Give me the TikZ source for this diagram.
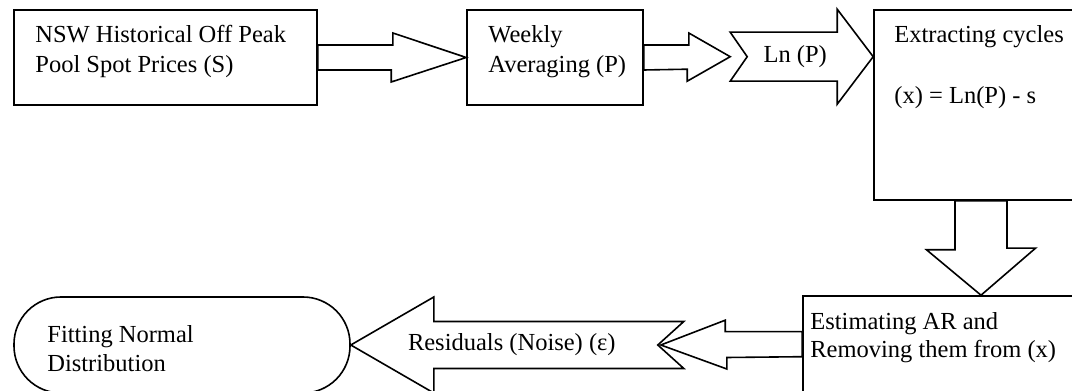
\documentclass[tikz,border=0pt]{standalone}
\usepackage{fontspec}
\setmainfont{Liberation Serif}
\tikzset{
  box/.style={draw,rectangle,line width=1.6pt},
  blk/.style={draw,line width=1.6pt},
  txt/.style={align=left,inner sep=0pt,font=\fontsize{24.5}{30}\selectfont},
}
\begin{document}
\begin{tikzpicture}[x=1pt,y=1pt,line join=miter] % Price model flow
\useasboundingbox (0,0) rectangle (1072,391);
\clip (0,0) rectangle (1072,391);
       \node[box,minimum width=303pt,minimum height=95pt] (nsw) at (165.5,333.5) {};
       \node[box,minimum width=176pt,minimum height=95pt] (wkly) at (555,333.5) {};
       \node[box,minimum width=214pt,minimum height=190pt] (xcyc) at (981,286) {};
       \node[box,minimum width=356pt,minimum height=124pt] (estar) at (981,33) {};
       \node[box,rounded corners=47pt,minimum width=336pt,minimum height=96pt] (fitn) at (182,46) {};
       \coordinate (lntip) at ([yshift=-47.5pt]xcyc.north west);
       \coordinate (lntail) at ([xshift=-143pt]lntip);
       \coordinate (artip) at ([xshift=310pt]fitn.east);
       \draw[blk] ([yshift=12.5pt]nsw.east) -- ++(75,0) -- ++(0,12) -- (wkly.west) -- ++(-75,-24.5) -- ++(0,12) -- ([yshift=-12.5pt]nsw.east) -- cycle;
       \draw[blk] ([yshift=12.5pt]wkly.east) -- ++(45,0) -- ++(0,12) -- (lntail) -- ++(-43,-24.5) -- ++(0,12) -- ([yshift=-12.5pt]wkly.east) -- cycle;
       \draw[blk] (lntip) -- ++(-36,47.5) -- ++(0,-23) -- ++(-107,0) -- ++(17,-24.5) -- ++(-17,-24.5) -- ++(107,0) -- ++(0,-23) -- cycle;
       \draw[blk] ([xshift=-26pt]xcyc.south) -- ++(0,-49) -- ++(-28.5,0) -- (estar.north) -- ++(54.5,47) -- ++(-28.5,0) -- ([xshift=26pt]xcyc.south) -- cycle;
       \draw[blk] ([yshift=-36.5pt]estar.north west) -- ++(-77,0) -- ++(0,11.5) -- (artip) -- ++(66,-24) -- ++(0,11.5) -- ([yshift=-61.5pt]estar.north west) -- cycle;
       \draw[blk] (fitn.east) -- ++(83,48) -- ++(0,-24.5) -- ++(250,0) -- ++(-26,-23.5) -- ++(26,-23.5) -- ++(-250,0) -- ++(0,-24.5) -- cycle;
       \node[txt,anchor=north west] (nsw-t) at ([shift={(22,-16)}]nsw.north west) {NSW Historical Off Peak\\Pool Spot Prices (S)};
       \node[txt,anchor=north west] (wkly-t) at ([shift={(22,-16)}]wkly.north west) {Weekly\\Averaging (P)};
       \node[txt] (lnp) at ([xshift=65pt]lntail) {Ln (P)};
       \node[txt,anchor=north west] (xcyc-t) at ([shift={(21,-16)}]xcyc.north west) {Extracting cycles\\[31pt](x) = Ln(P) - s};
       \node[txt,anchor=north west,font=\fontsize{24.5}{28}\selectfont] (estar-t) at ([shift={(8,-17)}]estar.north west) {Estimating AR and\\Removing them from (x)};
       \node[txt] (resid) at ([xshift=161pt]fitn.east) {Residuals (Noise) (ε)};
       \node[txt,anchor=north west,font=\fontsize{24.5}{29}\selectfont] (fitn-t) at ([shift={(34,-29)}]fitn.north west) {Fitting Normal\\Distribution};
\end{tikzpicture}
\end{document}
